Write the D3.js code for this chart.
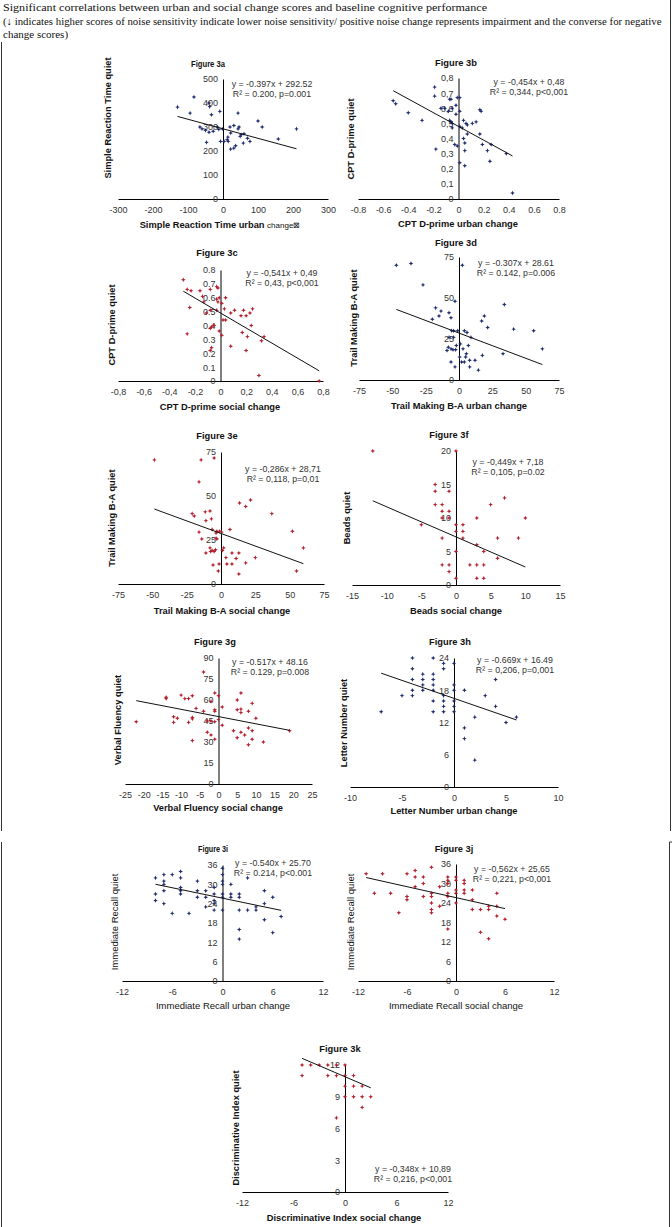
<!DOCTYPE html>
<html><head><meta charset="utf-8">
<script src="https://cdn.jsdelivr.net/npm/d3@7/dist/d3.min.js"></script>
<style>body{margin:0;background:#fff}svg{display:block}</style>
</head><body>
<script>
// ---------- DATA ----------
const headerLines = [
  "Significant correlations between urban and social change scores and baseline cognitive performance",
  "(\u2193 indicates higher scores of noise sensitivity indicate lower noise sensitivity/ positive noise change represents impairment and the converse for negative",
  "change scores)"
];
const panelTitles = ["Figure 3a","Figure 3b","Figure 3c","Figure 3d","Figure 3e","Figure 3f","Figure 3g","Figure 3h","Figure 3i","Figure 3j","Figure 3k"];
const xTitles = ["Simple Reaction Time urban ","CPT D-prime urban change","CPT D-prime social change","Trail Making B-A urban change","Trail Making B-A social change","Beads social change","Verbal Fluency social change","Letter Number urban change","Immediate Recall urban change","Immediate Recall social change","Discriminative Index social change"];
const yTitles = ["Simple Reaction Time quiet","CPT D-prime quiet","CPT D-prime  quiet","Trail Making B-A quiet","Trail Making B-A quiet","Beads quiet","Verbal Fluency quiet","Letter Number quiet","Immediate Recall quiet","Immediate Recall quiet","Discriminative Index quiet"];
const eqLine1 = ["y = -0.397x + 292.52","y = -0,454x + 0,48","y = -0,541x + 0,49","y = -0.307x + 28.61","y = -0,286x + 28,71","y = -0,449x + 7,18","y = -0.517x + 48.16","y = -0.669x + 16.49","y = -0.540x + 25.70","y = -0,562x + 25,65","y = -0,348x + 10,89"];
const eqLine2 = ["R\u00b2 = 0.200, p=0.001","R\u00b2 = 0,344, p<0,001","R\u00b2 = 0,43, p<0,001","R\u00b2 = 0.142, p=0.006","R\u00b2 = 0,118, p=0,01","R\u00b2 = 0,105, p=0.02","R\u00b2 = 0.129, p=0.008","R\u00b2 = 0,206, p=0,001","R\u00b2 = 0.214, p<0.001","R\u00b2 = 0,221, p<0,001","R\u00b2 = 0,216, p<0,001"];
const slopes = [-0.397,-0.454,-0.541,-0.307,-0.286,-0.449,-0.517,-0.669,-0.540,-0.562,-0.348];
const intercepts = [292.52,0.48,0.49,28.61,28.71,7.18,48.16,16.49,25.70,25.65,10.89];

const xTicks3a = [-300,-200,-100,0,100,200,300], yTicks3a = [0,100,200,300,400,500];
const xTicks3b = [-0.8,-0.6,-0.4,-0.2,0,0.2,0.4,0.6,0.8], yTicks3b = [0,0.1,0.2,0.3,0.4,0.5,0.6,0.7,0.8];
const xTicks3c = xTicks3b, yTicks3c = yTicks3b;
const xTicks3d = [-75,-50,-25,0,25,50,75], yTicks3d = [0,25,50,75];
const xTicks3e = xTicks3d, yTicks3e = yTicks3d;
const xTicks3f = [-15,-10,-5,0,5,10,15], yTicks3f = [0,5,10,15,20];
const xTicks3g = [-25,-20,-15,-10,-5,0,5,10,15,20,25], yTicks3g = [0,15,30,45,60,75,90];
const xTicks3h = [-10,-5,0,5,10], yTicks3h = [0,6,12,18,24];
const xTicks3i = [-12,-6,0,6,12], yTicks3i = [0,6,12,18,24,30,36];
const xTicks3j = xTicks3i, yTicks3j = yTicks3i;
const xTicks3k = [-12,-6,0,6,12], yTicks3k = [0,3,6,9,12];

const fig3a = [[-130,383],[-83,425],[-40,400],[-38,385],[-94,358],[-33,351],[-9,365],[43,358],[100,325],[112,300],[210,292],[158,250],[77,240],[-66,300],[-60,292],[-50,286],[-40,278],[-28,282],[-16,300],[-12,290],[-2,292],[-7,240],[3,240],[12,247],[14,258],[22,275],[20,300],[31,306],[43,292],[46,300],[49,261],[52,268],[60,272],[70,253],[58,233],[36,222],[31,212],[22,208],[-47,236],[15,240]];
const fig3b = [[-0.52,0.65],[-0.50,0.63],[-0.40,0.57],[-0.29,0.52],[-0.19,0.74],[-0.19,0.68],[-0.18,0.33],[-0.14,0.60],[-0.11,0.60],[-0.07,0.66],[-0.06,0.66],[-0.08,0.58],[-0.05,0.60],[-0.07,0.52],[-0.06,0.51],[-0.05,0.50],[-0.05,0.47],[-0.03,0.36],[-0.01,0.35],[-0.02,0.62],[-0.01,0.67],[0.01,0.67],[0.01,0.58],[-0.02,0.56],[0.01,0.48],[0.03,0.47],[0.01,0.24],[0.04,0.52],[0.06,0.50],[0.07,0.49],[0.07,0.43],[0.04,0.40],[0.05,0.37],[0.05,0.32],[0.05,0.22],[0.11,0.50],[0.14,0.51],[0.17,0.43],[0.17,0.59],[0.18,0.58],[0.19,0.36],[0.23,0.32],[0.25,0.25],[0.26,0.36],[0.38,0.30],[0.43,0.04]];
const fig3c = [[-0.29,0.73],[-0.26,0.66],[-0.23,0.65],[-0.24,0.53],[-0.26,0.34],[-0.16,0.65],[-0.14,0.61],[-0.13,0.57],[-0.11,0.49],[-0.08,0.66],[-0.08,0.51],[-0.08,0.38],[-0.07,0.39],[-0.05,0.40],[-0.07,0.24],[-0.08,0.22],[-0.03,0.68],[-0.02,0.67],[-0.03,0.59],[-0.02,0.57],[-0.01,0.60],[-0.03,0.51],[-0.01,0.36],[0.01,0.33],[0.01,0.56],[0.03,0.52],[0.02,0.44],[0.04,0.44],[0.04,0.60],[0.08,0.49],[0.11,0.51],[0.08,0.25],[0.16,0.47],[0.17,0.35],[0.18,0.51],[0.20,0.47],[0.21,0.32],[0.20,0.22],[0.23,0.49],[0.25,0.52],[0.24,0.40],[0.32,0.29],[0.34,0.32],[0.30,0.04],[0.77,0.0]];
const fig3d = [[-47,70],[-36,71],[-27,58],[2.5,70],[-17.5,44],[-15,39],[-13.5,42],[-20,37],[-7.5,41],[-6,38],[-3,48],[-5.5,30],[-4,30],[-1,30],[-7.5,26],[-4,26],[-8,20],[-9,18],[-6,19],[-4.5,18.4],[-2.5,18.4],[-2,21],[-6,11],[-3,8],[0.5,14],[1,22],[2,11],[3,19],[4,30],[5,14],[5.5,16],[4,11],[6,29],[7,21],[8,12],[9,26],[12,12],[8,8],[14.5,6],[17,36],[19,39],[17.5,15],[21.5,32],[33,16],[34,46],[41,31],[56,30],[62.5,19]];
const fig3e = [[-48.5,70.5],[-14.5,70.5],[-5,71.6],[-16,58],[13.5,46],[21.5,47.7],[18,44],[37,40],[-21,40],[-19.5,38.6],[-11.5,41],[-8,41.5],[-11,36],[-7,37],[-6.5,31],[-16,29.5],[-3,30],[-1,30],[0.5,29.5],[6.5,31],[-3.6,29],[-14,25.6],[-3.6,26],[-3,25.6],[52,30],[60,20.5],[-8,20.5],[-6.5,19],[-7.5,18.5],[-5,18.5],[-4,19.5],[-11,17.6],[2,20.5],[8,17.6],[1,19],[13,17.6],[25,15],[3.6,15],[11,14.5],[-5.8,10.8],[-1.4,11.4],[4.3,11.4],[8,11.4],[18,12],[-2,7.4],[13,5.7],[55,7.4]];
const fig3f = [[-12,20],[0,20],[-3,15],[-3,14],[-1,14],[-3,12],[-2,12],[-2,11],[-1,11],[-2,10],[-1,10],[-5,9],[0,9],[1,9],[0,8],[1,8],[-2,7],[1,7],[3,10],[5,12],[7,13],[10,10],[6,7],[9,7],[3,6],[4,5],[0,5],[6,4],[-2,3],[-1,3],[-1,2],[2,3],[3,3],[4,3],[0,1],[3,1],[4,1]];
const fig3g = [[-22,44.5],[-4,80],[-14,62],[-14,61],[-10,63.5],[-9,61],[-8,61],[-7,63],[-6,54],[-12,48],[-11,47],[-12,44],[-8,44],[-7,47.5],[-7,46.5],[-7,31],[-4,52],[-2,59],[-3,45],[-2,45],[-3,37],[-2,35],[-1,65],[0,63],[-1,53],[-1,52],[-1,44.5],[-1,32],[0,46],[1,55],[1,42],[5,60],[6,65],[6,53.5],[6,51],[5,53],[8,52],[9,57.6],[10,47],[4,38],[5,33],[6,37],[7,35],[8,40],[9,38],[8,28],[9,32],[12,30],[19,38]];
const fig3h = [[-7,14],[-5,17],[-4,24],[-4,22],[-4,20],[-4,18],[-4,17],[-3,21],[-3,20],[-3,19],[-3,18],[-2,24],[-2,21],[-2,20],[-2,19],[-2,18],[-2,16],[-2,14],[-1,23],[-1,22],[-1,17],[-1,16],[-1,15],[-1,14],[0,23],[0,19],[0,18],[0,16],[0,15],[0,14],[1,18],[1,11],[1,9],[2,13],[2,5],[3,17],[4,20],[4,15],[5,12],[6,13]];
const fig3i = [[-8,32],[-8,27],[-8,25],[-7,33],[-7,31],[-7,30],[-7,28],[-7,24],[-6,33],[-6,21],[-5,34],[-5,32],[-5,29],[-5,28],[-5,27],[-4,21],[-3,31],[-3,28],[-3,26],[-2,28],[-2,26],[-2,23],[-1,29],[-1,27],[-1,25],[-1,24],[-1,22],[0,35],[0,33],[0,31],[0,30],[0,27],[0,26],[0,22],[1,30],[1,27],[1,26],[2,27],[2,26],[2,22],[2,16],[2,13],[3,32],[3,22],[4,23],[4,22],[5,28],[5,24],[5,19],[6,26],[6,15],[7,20]];
const fig3j = [[-11,33],[-10,27],[-9,33],[-8,27],[-7,21],[-6,33],[-6,26],[-6,25],[-5,34],[-5,32],[-5,29],[-4,32],[-4,30],[-4,26],[-3,35],[-3,27],[-3,26],[-3,24],[-3,22],[-3,21],[-2,23],[-2,29],[-1,32],[-1,31],[-1,30],[-1,27],[-1,26],[-1,16],[0,32],[0,31],[0,28],[0,27],[0,24],[1,31],[1,30],[1,28],[1,27],[2,28],[2,25],[2,22],[3,22],[3,15],[4,23],[4,22],[4,13],[5,27],[5,23],[5,20],[6,19]];
const fig3k = [[-5,12],[-5,11],[-4,12],[-3,12],[-2,12],[-2,11],[-1,12],[-1,11],[-1,7],[0,12],[0,11],[0,10],[0,9],[1,11],[1,10],[1,9],[2,10],[2,9],[2,8],[3,9]];

// ---------- LAYOUT / STYLE ----------
const BLUE = "#1f2b6b", RED = "#b31f2d";
const dot = d => String(d), comma = d => String(d).replace(".", ",");
const SANS = "'Liberation Sans', Arial, sans-serif";
const panels = [
 {pts:fig3a,xt:xTicks3a,yt:yTicks3a,xr:[118,328],yr:[199,79],c:BLUE,xf:dot,yf:dot,title:[208,67],tl:34,eq:[272,87],xl:[220,228],yl:[111,118],extra:true},
 {pts:fig3b,xt:xTicks3b,yt:yTicks3b,xr:[358,559],yr:[199,78],c:BLUE,xf:dot,yf:comma,title:[456,66],eq:[529,85],xl:[458,227],yl:[354,139]},
 {pts:fig3c,xt:xTicks3c,yt:yTicks3c,xr:[118,323],yr:[381,270],c:RED,xf:comma,yf:dot,title:[217,256],eq:[282,276],xl:[220,410],yl:[115,325]},
 {pts:fig3d,xt:xTicks3d,yt:yTicks3d,xr:[359,559],yr:[380,257],c:BLUE,xf:dot,yf:dot,title:[456,246],eq:[516,266],xl:[459,409],yl:[357,318]},
 {pts:fig3e,xt:xTicks3e,yt:yTicks3e,xr:[118,324],yr:[584,452],c:RED,xf:dot,yf:dot,title:[217,439],eq:[283,472],xl:[222,614],yl:[115,518]},
 {pts:fig3f,xt:xTicks3f,yt:yTicks3f,xr:[352,560],yr:[585,451],c:RED,xf:dot,yf:dot,title:[449,438],eq:[508,465],xl:[456,614],yl:[350,518]},
 {pts:fig3g,xt:xTicks3g,yt:yTicks3g,xr:[125,312],yr:[784,658],c:RED,xf:dot,yf:dot,title:[215,645],eq:[270,665],xl:[218,811],yl:[121,720]},
 {pts:fig3h,xt:xTicks3h,yt:yTicks3h,xr:[350,558],yr:[787,658],c:BLUE,xf:dot,yf:dot,title:[450,645],eq:[515,663],xl:[454,814],yl:[347,723]},
 {pts:fig3i,xt:xTicks3i,yt:yTicks3i,xr:[122,323],yr:[981,865],c:BLUE,xf:dot,yf:dot,title:[213,852],tl:30,eq:[273,866],xl:[223,1009],yl:[118,922],light:true},
 {pts:fig3j,xt:xTicks3j,yt:yTicks3j,xr:[358,554],yr:[981,864],c:RED,xf:dot,yf:dot,title:[454,852],eq:[512,872],xl:[456,1009],yl:[354,922],light:true},
 {pts:fig3k,xt:xTicks3k,yt:yTicks3k,xr:[242,448],yr:[1192,1065],c:RED,xf:dot,yf:dot,title:[340,1052],eq:[413,1172],xl:[344,1221],yl:[239,1128]}
];

const svg = d3.select("body").append("svg").attr("width",672).attr("height",1227)
  .style("font-family", SANS);

// header
const hdrLen = [484, null, null];
const hdrSize = [11, 10.8, 11];
svg.selectAll("text.hdr").data(headerLines).join("text").attr("class","hdr")
  .attr("x",3).attr("y",(d,i)=>11+i*13.5)
  .style("font-family","'Liberation Serif','Times New Roman',serif")
  .style("font-size",(d,i)=>hdrSize[i]+"px").attr("fill","#111")
  .each(function(d,i){ if (hdrLen[i]) d3.select(this).attr("textLength",hdrLen[i]).attr("lengthAdjust","spacingAndGlyphs"); })
  .text(d=>d);

// frame lines
const frame = [[1.5,42,1.5,831],[670.5,0,670.5,831],[1.5,842,1.5,1227],[669.5,842,669.5,1227],[669.5,842,672,842]];
svg.selectAll("line.frame").data(frame).join("line").attr("class","frame")
  .attr("x1",d=>d[0]).attr("y1",d=>d[1]).attr("x2",d=>d[2]).attr("y2",d=>d[3])
  .attr("stroke","#333").attr("stroke-width",1);

const star = "M0,-2.3L0.7,-0.7L2.3,0L0.7,0.7L0,2.3L-0.7,0.7L-2.3,0L-0.7,-0.7Z";

panels.forEach((p,i)=>{
  const x = d3.scaleLinear().domain(d3.extent(p.xt)).range(p.xr);
  const y = d3.scaleLinear().domain(d3.extent(p.yt)).range(p.yr);
  const g = svg.append("g");
  const ax = g.append("g").attr("transform",`translate(0,${y(0)})`)
    .call(d3.axisBottom(x).tickValues(p.xt).tickFormat(p.xf).tickSize(0).tickSizeOuter(0).tickPadding(8));
  const ay = g.append("g").attr("transform",`translate(${x(0)},0)`)
    .call(d3.axisLeft(y).tickValues(p.yt).tickFormat(p.yf).tickSize(0).tickSizeOuter(0).tickPadding(5));
  [ax,ay].forEach(a=>{
    a.attr("font-family",SANS).attr("font-size",9);
    a.select(".domain").attr("stroke","#000").attr("stroke-width",1);
    a.selectAll("text").attr("fill","#333");
  });
  // points
  g.selectAll("path.pt").data(p.pts).join("path").attr("class","pt")
    .attr("d",star).attr("fill",p.c)
    .attr("transform",d=>`translate(${x(d[0])},${y(d[1])})`);
  // trend line
  const xe = d3.extent(p.pts,d=>d[0]);
  g.append("line").attr("x1",x(xe[0])).attr("y1",y(intercepts[i]+slopes[i]*xe[0]))
    .attr("x2",x(xe[1])).attr("y2",y(intercepts[i]+slopes[i]*xe[1]))
    .attr("stroke","#111").attr("stroke-width",1);
  // title
  const t = g.append("text").attr("x",p.title[0]).attr("y",p.title[1]).attr("text-anchor","middle")
    .attr("font-size",9.3).attr("font-weight","bold").attr("fill","#111").text(panelTitles[i]);
  if (p.tl) t.attr("textLength",p.tl).attr("lengthAdjust","spacingAndGlyphs");
  // equation
  g.append("text").attr("x",p.eq[0]).attr("y",p.eq[1]).attr("text-anchor","middle")
    .attr("font-size",8.8).attr("fill","#333").text(eqLine1[i]);
  g.append("text").attr("x",p.eq[0]).attr("y",p.eq[1]+10).attr("text-anchor","middle")
    .attr("font-size",8.8).attr("fill","#333").text(eqLine2[i]);
  // axis titles
  const fw = p.light ? "normal" : "bold";
  const xlab = g.append("text").attr("x",p.xl[0]).attr("y",p.xl[1]).attr("text-anchor","middle")
    .attr("font-size",p.light?9.5:9.3).attr("font-weight",fw).attr("fill","#111");
  xlab.append("tspan").text(xTitles[i]);
  if (p.extra) {
    xlab.append("tspan").attr("font-weight","normal").attr("font-size",8).text("change");
    xlab.append("tspan").attr("font-weight","normal").attr("font-size",8).text("\u22a0");
  }
  g.append("text").attr("transform",`translate(${p.yl[0]},${p.yl[1]}) rotate(-90)`).attr("text-anchor","middle")
    .attr("font-size",p.light?9.5:9.3).attr("font-weight",fw).attr("fill","#111").text(yTitles[i]);
});
</script>
</body></html>
